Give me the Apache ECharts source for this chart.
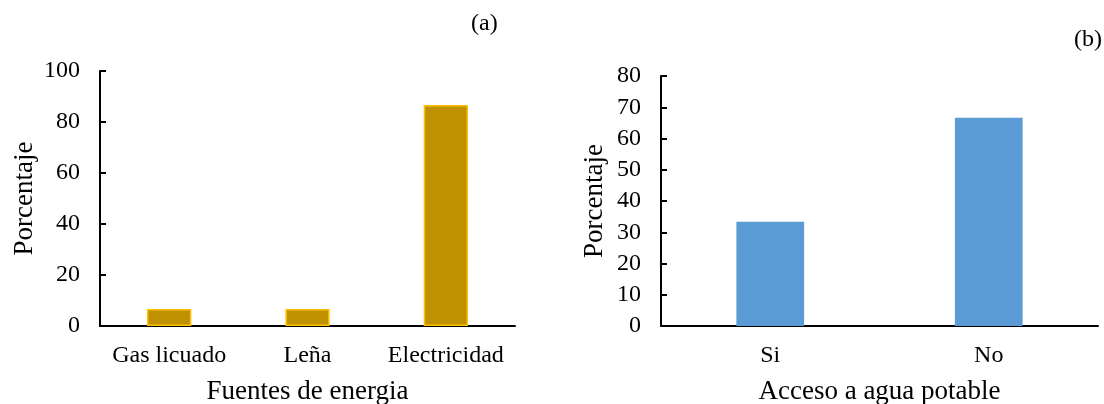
<!DOCTYPE html>
<html>
<head>
<meta charset="utf-8">
<script src="https://cdn.jsdelivr.net/npm/echarts@6/dist/echarts.min.js"></script>
<style>
html,body{margin:0;padding:0;background:#fff;}
#chart{width:1104px;height:404px;}
</style>
</head>
<body>
<div id="chart"></div>
<script>
// Data
var energyCategories = ['Gas licuado', 'Leña', 'Electricidad'];
var energyValues = [6.67, 6.67, 86.67];
var waterCategories = ['Si', 'No'];
var waterValues = [33.33, 66.67];
var energyYTicks = {min: 0, max: 100, interval: 20};
var waterYTicks = {min: 0, max: 80, interval: 10};

var FONT = 'Liberation Serif';
var TICK = 24;
var NAME = 27;

function catAxis(idx, cats, name) {
  return {
    type: 'category', gridIndex: idx, data: cats,
    name: name, nameLocation: 'middle', nameGap: 52,
    nameTextStyle: {fontFamily: FONT, fontSize: NAME, color: '#000'},
    axisLine: {lineStyle: {color: '#000', width: 2}},
    axisTick: {inside: true, length: 6, lineStyle: {color: '#000', width: 2}},
    axisLabel: {fontFamily: FONT, fontSize: TICK, color: '#000', margin: 18, interval: 0},
    splitLine: {show: false}
  };
}
function valAxis(idx, t, gap) {
  return {
    type: 'value', gridIndex: idx, min: t.min, max: t.max, interval: t.interval,
    name: 'Porcentaje', nameLocation: 'middle', nameGap: gap,
    nameTextStyle: {fontFamily: FONT, fontSize: NAME, color: '#000'},
    axisLine: {show: true, lineStyle: {color: '#000', width: 2}},
    axisTick: {show: true, inside: true, length: 6, lineStyle: {color: '#000', width: 2}},
    axisLabel: {fontFamily: FONT, fontSize: TICK, color: '#000', margin: 20},
    splitLine: {show: false}
  };
}

var chart = echarts.init(document.getElementById('chart'), null, {renderer: 'canvas'});
chart.setOption({
  backgroundColor: '#fff',
  animation: false,
  title: [
    {text: '(a)', left: 471, top: 12, textStyle: {fontFamily: FONT, fontSize: TICK, fontWeight: 'normal', color: '#000'}, padding: 0},
    {text: '(b)', left: 1074, top: 28, textStyle: {fontFamily: FONT, fontSize: TICK, fontWeight: 'normal', color: '#000'}, padding: 0}
  ],
  grid: [
    {left: 100, top: 71, width: 415, height: 255, containLabel: false, outerBoundsMode: 'none'},
    {left: 661, top: 76, width: 437, height: 250, containLabel: false, outerBoundsMode: 'none'}
  ],
  xAxis: [catAxis(0, energyCategories, 'Fuentes de energia'), catAxis(1, waterCategories, 'Acceso a agua potable')],
  yAxis: [valAxis(0, energyYTicks, 62), valAxis(1, waterYTicks, 53)],
  series: [
    {type: 'bar', xAxisIndex: 0, yAxisIndex: 0, data: energyValues, barWidth: '32%',
     itemStyle: {color: '#BF9000', borderColor: '#FFC000', borderWidth: 1.5}},
    {type: 'bar', xAxisIndex: 1, yAxisIndex: 1, data: waterValues, barWidth: '31%',
     itemStyle: {color: '#5B9BD5'}}
  ]
});
</script>
</body>
</html>
